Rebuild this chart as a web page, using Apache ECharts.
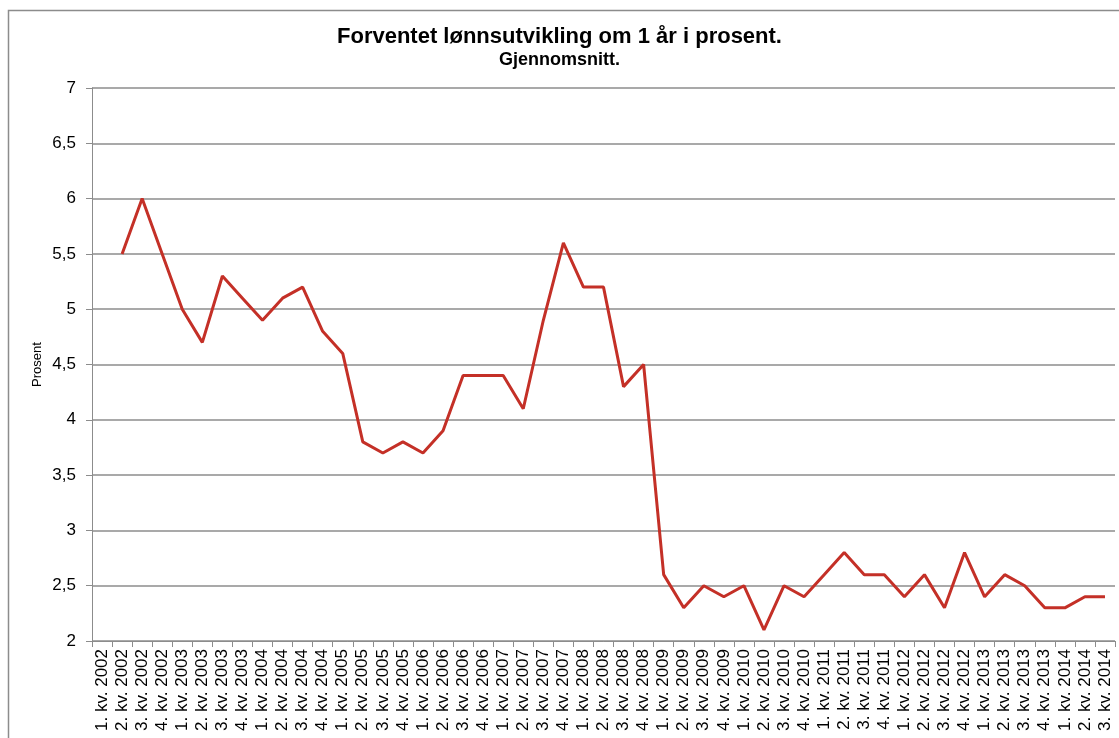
<!DOCTYPE html>
<html>
<head>
<meta charset="utf-8">
<script src="https://cdn.jsdelivr.net/npm/echarts@6/dist/echarts.min.js"></script>
<style>
  html, body { margin: 0; padding: 0; background: #fff; }
  #chart { width: 1119px; height: 738px; }
</style>
</head>
<body>
<div id="chart"></div>
<script>
const years = [2002, 2003, 2004, 2005, 2006, 2007, 2008, 2009, 2010, 2011, 2012, 2013, 2014];
const quarterLabels = [];
years.forEach(y => {
  for (let q = 1; q <= 4; q++) {
    if (y === 2014 && q > 3) break;
    quarterLabels.push(q + '. kv. ' + y);
  }
});

// first quarter has no value
const lonnsvekst = [
  null, 5.5, 6.0, 5.5,
  5.0, 4.7, 5.3, 5.1,
  4.9, 5.1, 5.2, 4.8,
  4.6, 3.8, 3.7, 3.8,
  3.7, 3.9, 4.4, 4.4,
  4.4, 4.1, 4.9, 5.6,
  5.2, 5.2, 4.3, 4.5,
  2.6, 2.3, 2.5, 2.4,
  2.5, 2.1, 2.5, 2.4,
  2.6, 2.8, 2.6, 2.6,
  2.4, 2.6, 2.3, 2.8,
  2.4, 2.6, 2.5, 2.3,
  2.3, 2.4, 2.4
];

const chart = echarts.init(document.getElementById('chart'));

chart.setOption({
  animation: false,
  textStyle: { fontFamily: 'Liberation Sans, Arial, sans-serif' },
  graphic: [{
    type: 'rect',
    shape: { x: 8.5, y: 10.5, width: 1130, height: 760 },
    style: { fill: null, stroke: '#8c8c8c', lineWidth: 1.5 },
    silent: true
  }],
  title: {
    text: 'Forventet lønnsutvikling om 1 år i prosent.',
    subtext: 'Gjennomsnitt.',
    left: 'center',
    top: 21,
    itemGap: 3,
    textStyle: { fontSize: 22, fontWeight: 'bold', color: '#000' },
    subtextStyle: { fontSize: 18, fontWeight: 'bold', color: '#000' }
  },
  grid: { left: 92, right: 4, top: 88, bottom: 97 },
  xAxis: {
    type: 'category',
    data: quarterLabels,
    boundaryGap: true,
    axisLine: { lineStyle: { color: '#8c8c8c', width: 1 } },
    axisTick: { show: true, alignWithLabel: false, length: 6, lineStyle: { color: '#8c8c8c' } },
    axisLabel: { rotate: 90, interval: 0, fontSize: 17, color: '#000', margin: 8 }
  },
  yAxis: {
    type: 'value',
    min: 2,
    max: 7,
    interval: 0.5,
    name: 'Prosent',
    nameLocation: 'middle',
    nameGap: 48,
    nameMoveOverlap: false,
    nameTextStyle: { fontSize: 13, color: '#000' },
    axisLine: { show: true, lineStyle: { color: '#8c8c8c' } },
    axisTick: { show: true, length: 6, lineStyle: { color: '#8c8c8c' } },
    axisLabel: {
      fontSize: 17,
      color: '#000',
      margin: 16,
      formatter: v => String(v).replace('.', ',')
    },
    splitLine: { lineStyle: { color: '#8c8c8c', width: 1.5 } }
  },
  series: [{
    type: 'line',
    data: lonnsvekst,
    symbol: 'none',
    connectNulls: false,
    lineStyle: { color: '#c43027', width: 3 }
  }]
});
</script>
</body>
</html>
